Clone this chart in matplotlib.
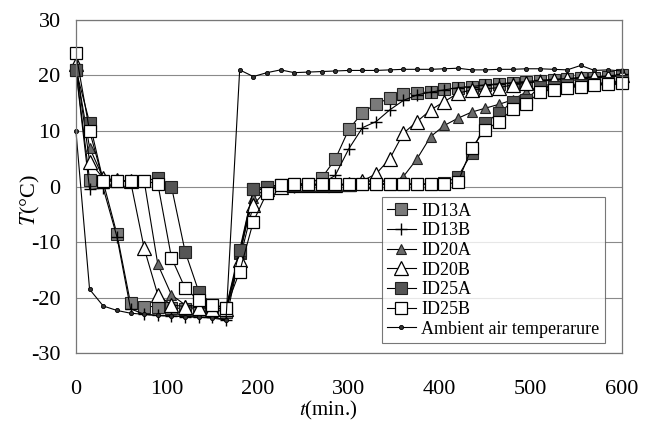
import numpy as np
import matplotlib
matplotlib.use("Agg")
import matplotlib.pyplot as plt
from matplotlib.lines import Line2D

# time in minutes, one reading every 15 min
t = np.arange(0, 601, 15)

id13a = [21, 1.2, 0.8, -8.5, -21, -21.6, -21.6, -21.8, -22, -22, -22.2, -22.5,
         -12, -0.5, 0, 0.3, 0.5, 0.5, 1.5, 4.9, 10.3, 13.3, 14.9, 15.9, 16.6,
         16.8, 17.1, 17.5, 17.8, 18, 18.2, 18.4, 18.6, 18.8, 19, 19.2, 19.3,
         19.5, 19.6, 19.8, 20]
id13b = [21, -0.5, -0.3, -9, -22, -23, -23.2, -23.3, -23.4, -23.5, -23.5, -24,
         -12.5, -0.8, -0.3, 0, 0, 0.3, 0.5, 2, 6.8, 10.6, 11.7, 13.8, 15.5,
         16.5, 17, 17.4, 17.8, 18, 18.3, 18.5, 18.7, 18.9, 19.1, 19.3, 19.4,
         19.6, 19.7, 19.9, 20.2]
id20a = [21.5, 7, 1.5, 1, 1, 1, -14, -19.5, -21.3, -21.6, -21.8, -22,
         -12, -2, -0.3, 0, 0.2, 0.3, 0.3, 0.3, 0.3, 0.4, 0.5, 0.5, 1.8,
         5, 9, 11, 12.3, 13.4, 14.1, 14.8, 15.6, 17, 18, 18.5, 19, 19.3,
         19.5, 19.7, 20]
id20b = [22, 4.5, 1.5, 1.2, 1, -11.1, -19.5, -21.3, -21.6, -21.8, -22, -22,
         -13.2, -3.3, -0.5, 0, 0.2, 0.3, 0.3, 0.3, 0.5, 1, 2.3, 5, 9.6,
         11.7, 13.8, 15.3, 16.8, 17.4, 17.6, 17.8, 18.3, 18.6, 18.9, 19.2,
         19.4, 19.6, 19.7, 19.8, 20]
id25a = [21, 11.5, 1, 1, 1, 1, 1.5, 0, -11.7, -18.9, -21.3, -21.8,
         -11.4, -0.5, 0, 0.2, 0.3, 0.3, 0.3, 0.3, 0.3, 0.4, 0.4, 0.5, 0.5,
         0.5, 0.5, 0.6, 1.8, 6, 11.5, 13.2, 15.3, 15.6, 18, 18, 18.2, 18.3,
         18.5, 18.7, 19]
id25b = [24, 10, 1, 1, 1, 1, 0.5, -12.8, -18.3, -20.5, -21.3, -21.8,
         -15.3, -6.3, -1.1, 0.3, 0.5, 0.4, 0.4, 0.4, 0.4, 0.4, 0.4, 0.4, 0.4,
         0.4, 0.4, 0.4, 0.8, 7, 10.2, 11.7, 13.9, 14.8, 17.1, 17.4, 17.8, 18,
         18.2, 18.4, 18.6]
ambient = [10, -18.5, -21.5, -22.3, -22.8, -23, -23.2, -23.3, -23.4, -23.5,
           -23.7, -24, 21, 19.8, 20.5, 21, 20.5, 20.6, 20.7, 20.8, 20.9, 20.9,
           20.9, 21, 21.1, 21.1, 21.1, 21.2, 21.3, 21, 21, 21.1, 21.1, 21.2,
           21.2, 21.1, 21, 21.8, 20.9, 21, 20.8]

x_ticks = [0, 100, 200, 300, 400, 500, 600]
y_ticks = [-30, -20, -10, 0, 10, 20, 30]

plt.rcParams.update({
    "font.family": ["Liberation Serif", "DejaVu Serif"],
    "mathtext.fontset": "stix",
    "axes.unicode_minus": False,
})

fig = plt.figure(figsize=(6.49, 4.23), dpi=100)
ax = fig.add_axes([0.117, 0.165, 0.841, 0.788])

ax.set_xlim(0, 600)
ax.set_ylim(-30, 30)
ax.set_xticks(x_ticks)
ax.set_yticks(y_ticks)
ax.tick_params(length=0, labelsize=16)
ax.tick_params(axis="x", pad=19)
ax.tick_params(axis="y", pad=11)
ax.yaxis.grid(True, color="#8a8a8a", linewidth=0.8)
for s in ax.spines.values():
    s.set_color("#777777")
    s.set_linewidth(0.9)

lw = 0.8
styles = [
    ("ID13A", id13a, dict(marker="s", ms=8.5, mfc="#7a7a7a", mec="#222222", mew=0.8)),
    ("ID13B", id13b, dict(marker="+", ms=9, mec="black", mew=1.0)),
    ("ID20A", id20a, dict(marker="^", ms=7, mfc="#6a6a6a", mec="#222222", mew=0.8)),
    ("ID20B", id20b, dict(marker="^", ms=9.5, mfc="white", mec="black", mew=0.9)),
    ("ID25A", id25a, dict(marker="s", ms=8.5, mfc="#555555", mec="#222222", mew=0.8)),
    ("ID25B", id25b, dict(marker="s", ms=9, mfc="white", mec="black", mew=0.9)),
    ("Ambient air temperarure", ambient, dict(marker="o", ms=3, mfc="#333333", mec="black", mew=0.6)),
]

handles = []
for label, vals, kw in styles:
    ax.plot(t, vals, color="black", linewidth=lw, clip_on=False, **kw)
    handles.append(Line2D([], [], color="black", linewidth=lw, label=label, **kw))

leg = ax.legend(handles=handles, loc="lower left", bbox_to_anchor=(0.56, 0.03),
                fontsize=13, frameon=True, fancybox=False, handlelength=1.6,
                handletextpad=0.3, labelspacing=0.15, borderpad=0.3,
                borderaxespad=0)
leg.get_frame().set_edgecolor("#555555")
leg.get_frame().set_linewidth(0.8)

fig.text(30 / 649, 1 - 200 / 423, r"$T$(°C)", rotation=90, fontsize=16,
         ha="center", va="center")
fig.text(328 / 649, 1 - 410 / 423, r"$t$(min.)", fontsize=15,
         ha="center", va="center")

fig.savefig("out.png", dpi=100)
